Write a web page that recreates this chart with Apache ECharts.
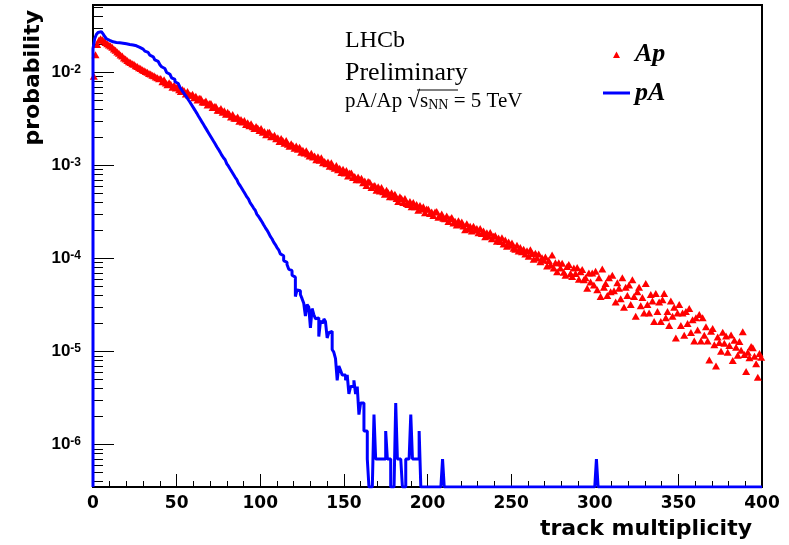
<!DOCTYPE html>
<html>
<head>
<meta charset="utf-8">
<script src="https://cdn.jsdelivr.net/npm/echarts@6/dist/echarts.min.js"></script>
<style>
html,body{margin:0;padding:0;background:#fff;}
#chart{width:789px;height:545px;}
</style>
</head>
<body>
<div id="chart"></div>
<script>
// ---- axis ranges / tick labels ----
const xMin = 0, xMax = 400;
const yMin = 3.5e-7, yMax = 0.053;
const xLabelInterval = 50;
const yMajorTicks = [1e-6, 1e-5, 1e-4, 1e-3, 1e-2];
const yMinorTicks = [
  4e-7, 5e-7, 6e-7, 7e-7, 8e-7, 9e-7,
  2e-6, 3e-6, 4e-6, 5e-6, 6e-6, 7e-6, 8e-6, 9e-6,
  2e-5, 3e-5, 4e-5, 5e-5, 6e-5, 7e-5, 8e-5, 9e-5,
  2e-4, 3e-4, 4e-4, 5e-4, 6e-4, 7e-4, 8e-4, 9e-4,
  2e-3, 3e-3, 4e-3, 5e-3, 6e-3, 7e-3, 8e-3, 9e-3,
  2e-2, 3e-2, 4e-2, 5e-2
];

// ---- series values: probability per unit bin of track multiplicity (bin i = [i, i+1)),
// written in units of 1e-6 ----
const valueUnit = 1e-6;
const apProb = [
  9100, 15500, 19900, 22100, 23000, 22500, 21800, 21000, 20300, 19700,
  19200, 18600, 17800, 17300, 16600, 16100, 15400, 15000, 14300, 13900,
  13450, 13050, 12800, 12400, 12200, 11800, 11600, 11200, 11000, 10700,
  10500, 10200, 10050, 9750, 9600, 9300, 9180, 8920, 8780, 8540,
  8620, 7950, 8340, 7700, 7380, 7760, 7440, 6930, 7270, 6780,
  7050, 6510, 6240, 6560, 6360, 5860, 6220, 5680, 5680, 5840,
  5340, 5550, 5060, 5260, 5250, 4800, 4790, 4930, 4450, 4640,
  4630, 4190, 4310, 4310, 3930, 3930, 4080, 3730, 3880, 3540,
  3720, 3570, 3320, 3520, 3220, 3210, 3310, 2990, 3110, 2930,
  3040, 2750, 2870, 2670, 2810, 2600, 2490, 2620, 2520, 2380,
  2500, 2280, 2320, 2140, 2280, 2270, 2030, 2050, 2110, 1930,
  1990, 1810, 1950, 1850, 1730, 1850, 1690, 1610, 1710, 1640,
  1530, 1620, 1490, 1570, 1390, 1460, 1360, 1440, 1330, 1260,
  1350, 1230, 1260, 1150, 1240, 1140, 1210, 1070, 1100, 1040,
  1090, 980, 1070, 970, 930, 1000, 900, 930, 840, 910,
  830, 880, 770, 830, 830, 740, 760, 700, 750, 700,
  730, 650, 680, 610, 670, 660, 580, 600, 610, 540,
  590, 530, 580, 520, 490, 540, 510, 460, 510, 460,
  490, 440, 410, 460, 440, 400, 440, 390, 380, 410,
  360, 400, 360, 380, 330, 370, 340, 360, 310, 340,
  339, 305, 316, 290, 315, 319, 278, 282, 301, 271,
  267, 287, 250, 267, 276, 241, 252, 229, 254, 233,
  246, 223, 204, 236, 210, 222, 197, 222, 202, 210,
  189, 210, 186, 198, 171, 189, 175, 190, 163, 173,
  177, 153, 166, 152, 167, 143, 158, 135, 150, 139,
  147, 129, 126, 139, 120, 131, 118, 126, 112, 121,
  106, 124, 113, 98, 114, 101, 112, 92, 102, 96,
  104, 83, 95, 85, 109, 79, 90, 72, 90, 79,
  89, 71, 66, 82, 86, 69, 64, 79, 69, 80,
  60, 72, 76, 59, 62, 48, 70, 56, 70, 52,
  73, 46, 62, 39, 77, 49, 54, 40, 62, 44,
  66, 45, 34, 55, 48, 37, 62, 30, 49, 40,
  52, 32, 59, 39, 24, 44, 49, 31, 38, 26,
  54, 32, 26, 41, 35, 21, 42, 27, 34, 21,
  36, 42, 23, 27, 19, 35, 24, 30, 14, 26,
  32, 19, 26, 15, 27, 20, 29, 16, 22, 13,
  23, 17, 25, 13, 23, 15, 18.5, 13, 8.1, 16.5,
  17.7, 11.8, 7.0, 14.3, 12.5, 10.1, 16.1, 12.3, 14.7, 9.8,
  11.6, 15.1, 8.0, 13.2, 11.1, 9.1, 12.8, 10.3, 16.3, 9.3,
  6.1, 9.8, 8.6, 11.3, 11.0, 8.9, 7.4, 5.3, 9.5, 8.7
];
const paProb = [
  18000, 23000, 25500, 26800, 27400, 27200, 25900, 24300, 23000, 22100,
  21600, 21300, 21100, 21000, 20900, 20800, 20700, 20600, 20500, 20300,
  20100, 19950, 19800, 19700, 19600, 19300, 19000, 18600, 18200, 17800,
  17400, 16900, 16400, 15800, 15300, 14700, 14200, 13600, 13100, 12600,
  12100, 11500, 11000, 10500, 10000, 9550, 9120, 8750, 8410, 7940,
  7590, 7240, 6890, 6490, 6110, 5750, 5410, 5080, 4780, 4470,
  4180, 3910, 3650, 3400, 3180, 2960, 2770, 2580, 2410, 2250,
  2100, 1960, 1830, 1710, 1590, 1490, 1390, 1290, 1210, 1150,
  1040, 982, 916, 855, 798, 745, 705, 640, 605, 565,
  527, 492, 459, 435, 395, 373, 348, 330, 298, 283,
  265, 248, 230, 215, 202, 188, 173, 163, 150, 141,
  131, 124, 112, 107, 95, 91, 86, 77, 74, 66,
  63, 39, 46, 45, 41, 37, 33, 24, 32, 30,
  18, 29, 25, 22.5, 23, 14.5, 21, 20.5, 22.5, 21,
  14, 16, 16.5, 10.5, 9.8, 8.4, 4.9, 7.0, 6.3, 5.6,
  5.6, 4.9, 5.6, 3.5, 4.2, 4.2, 4.9, 3.5, 4.2, 2.1,
  2.8, 2.8, 1.4, 1.4, 0.7, 0, 0, 0, 2.1, 0.7,
  0.7, 0.7, 0.7, 0.7, 0.7, 1.4, 0.7, 0.7, 0, 0,
  0, 2.8, 0.7, 0.7, 0.7, 0, 0, 0.7, 0.7, 0.7,
  2.1, 0.7, 0.7, 0.7, 0.7, 1.4, 0, 0, 0, 0,
  0, 0, 0, 0, 0, 0, 0, 0, 0, 0.7,
  0, 0, 0, 0, 0, 0, 0, 0, 0, 0,
  0, 0, 0, 0, 0, 0, 0, 0, 0, 0,
  0, 0, 0, 0, 0, 0, 0, 0, 0, 0,
  0, 0, 0, 0, 0, 0, 0, 0, 0, 0,
  0, 0, 0, 0, 0, 0, 0, 0, 0, 0,
  0, 0, 0, 0, 0, 0, 0, 0, 0, 0,
  0, 0, 0, 0, 0, 0, 0, 0, 0, 0,
  0, 0, 0, 0, 0, 0, 0, 0, 0, 0,
  0, 0, 0, 0, 0, 0, 0, 0, 0, 0,
  0, 0.7, 0, 0, 0, 0, 0, 0, 0, 0,
  0, 0, 0, 0, 0, 0, 0, 0, 0, 0,
  0, 0, 0, 0, 0, 0, 0, 0, 0, 0,
  0, 0, 0, 0, 0, 0, 0, 0, 0, 0,
  0, 0, 0, 0, 0, 0, 0, 0, 0, 0,
  0, 0, 0, 0, 0, 0, 0, 0, 0, 0,
  0, 0, 0, 0, 0, 0, 0, 0, 0, 0,
  0, 0, 0, 0, 0, 0, 0, 0, 0, 0,
  0, 0, 0, 0, 0, 0, 0, 0, 0, 0,
  0, 0, 0, 0, 0, 0, 0, 0, 0, 0
];

// ---- build series data ----
// Ap: markers at bin centres
const apData = apProb.map((v, i) => [i + 0.5, v * valueUnit]);
// pA: step histogram; empty bins are drawn on the frame floor (like ROOT)
const paData = [[0, yMin]];
paProb.forEach((v, i) => paData.push([i, v > 0 ? v * valueUnit : yMin]));
paData.push([paProb.length, paData[paData.length - 1][1]]);

const triIcon = 'path://M0,0L0,0M27,14L27,14M10,11L13.5,4.6L17,11Z';
const lineIcon = 'path://M0,0L0,0M27,14L27,14M0,5.5L27,5.5L27,8.5L0,8.5Z';

const chart = echarts.init(document.getElementById('chart'), null, {renderer: 'canvas'});
chart.setOption({
  animation: false,
  backgroundColor: '#ffffff',
  grid: {left: 93, right: 27, top: 5, bottom: 58, show: true, borderColor: '#000', borderWidth: 2, backgroundColor: 'transparent'},
  legend: {
    orient: 'vertical', left: 598, top: 36,
    itemWidth: 27, itemHeight: 14, itemGap: 13,
    selectedMode: false,
    textStyle: {fontFamily: 'Liberation Serif', fontWeight: 'bold', fontStyle: 'italic', fontSize: 26, color: '#000', lineHeight: 26},
    data: [
      {name: 'Ap', icon: triIcon, itemStyle: {color: '#ff0000', borderWidth: 0, opacity: 1}},
      {name: 'pA', icon: lineIcon, itemStyle: {color: '#0000ff', borderWidth: 0, opacity: 1}}
    ]
  },
  xAxis: {
    type: 'value', min: xMin, max: xMax, interval: xLabelInterval,
    axisLine: {show: true, onZero: false, lineStyle: {color: '#000', width: 2}},
    axisTick: {show: true, inside: true, length: 13, lineStyle: {color: '#000', width: 1}},
    minorTick: {show: true, splitNumber: 5, length: 6, lineStyle: {color: '#000', width: 1}},
    axisLabel: {color: '#000', fontFamily: 'DejaVu Sans', fontWeight: 'bold', fontSize: 17, margin: 8},
    splitLine: {show: false}, minorSplitLine: {show: false}
  },
  yAxis: [{
    type: 'log', logBase: 10, min: yMin, max: yMax, position: 'left',
    axisLine: {show: true, onZero: false, lineStyle: {color: '#000', width: 2}},
    axisTick: {show: true, inside: true, length: 21, customValues: yMajorTicks, lineStyle: {color: '#000', width: 1}},
    axisLabel: {
      customValues: yMajorTicks, margin: 12, color: '#000',
      formatter: v => '{b|10}{s|' + Math.round(Math.log10(v)) + '}',
      rich: {
        b: {fontFamily: 'Liberation Sans', fontWeight: 'bold', fontSize: 17, color: '#000'},
        s: {fontFamily: 'Liberation Sans', fontWeight: 'bold', fontSize: 12, color: '#000', verticalAlign: 'top'}
      }
    },
    splitLine: {show: false}
  }, {
    type: 'log', logBase: 10, min: yMin, max: yMax, position: 'left',
    axisLine: {show: false},
    axisTick: {show: true, inside: true, length: 10, customValues: yMinorTicks, lineStyle: {color: '#000', width: 1}},
    axisLabel: {show: false},
    splitLine: {show: false}
  }],
  series: [{
    name: 'Ap', type: 'scatter', data: apData, yAxisIndex: 0,
    symbol: 'triangle', symbolSize: [8, 7],
    itemStyle: {color: '#ff0000', opacity: 1}, z: 2
  }, {
    name: 'pA', type: 'line', data: paData, yAxisIndex: 0,
    step: 'end', symbol: 'none', showSymbol: false, clip: true,
    lineStyle: {color: '#0000ff', width: 3, opacity: 1}, itemStyle: {color: '#0000ff'}, z: 3
  }],
  graphic: [
    {type: 'text', x: 345, y: 41, style: {text: 'LHCb', font: '24px "Liberation Serif"', fill: '#000', align: 'left', verticalAlign: 'middle'}},
    {type: 'text', x: 345, y: 73, style: {text: 'Preliminary', font: '26px "Liberation Serif"', fill: '#000', align: 'left', verticalAlign: 'middle'}},
    {type: 'text', x: 345, y: 101, style: {
      text: '{n|pA/Ap }{r|√}{n|s}{sub|NN}{n| = 5 TeV}', align: 'left', verticalAlign: 'middle',
      rich: {
        n: {fontFamily: 'Liberation Serif', fontSize: 21, fill: '#000'},
        r: {fontFamily: 'Liberation Serif', fontSize: 23, fill: '#000'},
        sub: {fontFamily: 'Liberation Serif', fontSize: 14, fill: '#000', verticalAlign: 'bottom'}
      }
    }},
    {type: 'line', shape: {x1: 417, y1: 90, x2: 458, y2: 90}, style: {stroke: '#000', lineWidth: 1}},
    {type: 'text', x: 33, y: 10, rotation: Math.PI / 2, style: {text: 'probability', font: 'bold 22px "DejaVu Sans"', fill: '#000', align: 'right', verticalAlign: 'middle'}},
    {type: 'text', x: 752, y: 529, style: {text: 'track multiplicity', font: 'bold 22px "DejaVu Sans"', fill: '#000', align: 'right', verticalAlign: 'middle'}}
  ]
});
</script>
</body>
</html>
